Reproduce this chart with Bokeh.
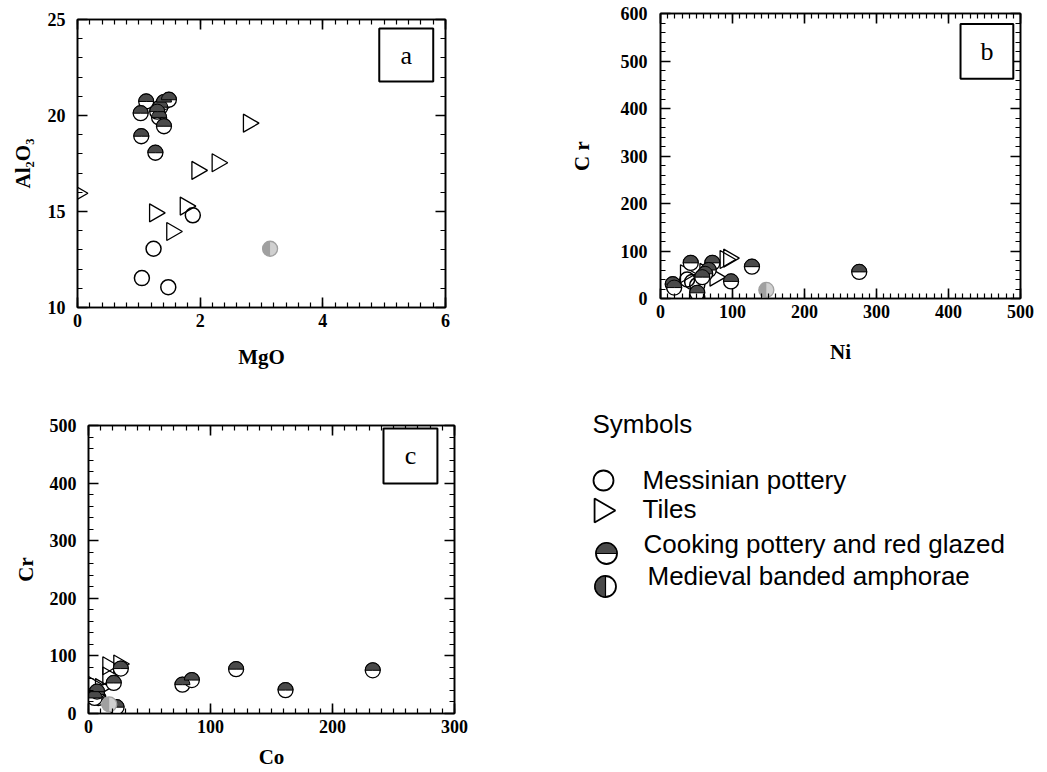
import numpy as np
from bokeh.plotting import figure
from bokeh.models import (Range1d, SingleIntervalTicker, LinearAxis, CustomJSTickFormatter,
                          BoxAnnotation, Label)
from bokeh.layouts import row, column
from bokeh.core.properties import value
from bokeh.embed import file_html
from bokeh.resources import INLINE

# ---------------- data ----------------
# Panel a: MgO vs Al2O3
a_mess_x = [1.88, 1.24, 1.05, 1.48]
a_mess_y = [14.8, 13.06, 11.53, 11.06]
a_tile_x = [2.79, 2.28, 1.95, 0.0, 1.76, 1.26, 1.54]
a_tile_y = [19.6, 17.54, 17.14, 15.95, 15.28, 14.93, 13.96]
a_cook_x = [1.12, 1.03, 1.04, 1.27, 1.33, 1.41, 1.35, 1.41, 1.49, 1.30]
a_cook_y = [20.73, 20.12, 18.92, 18.06, 19.9, 19.44, 20.43, 20.7, 20.82, 20.2]
a_med_x = [3.14]
a_med_y = [13.06]

# Panel b: Ni vs Cr
b_mess_x = [37, 44, 51, 51]
b_mess_y = [40, 35, 28, 3]
b_tile_x = [35, 90, 95, 76, 62]
b_tile_y = [52, 82, 85, 45, 55]
b_cook_x = [17, 19, 42, 72, 67, 62, 58, 98, 127, 276, 51]
b_cook_y = [30, 23, 75, 75, 60, 52, 45, 36, 67, 56, 12]
b_med_x = [147]
b_med_y = [18]

# Panel c: Co vs Cr
c_mess_x = [4, 6, 8]
c_mess_y = [30, 35, 27]
c_tile_x = [3, 10, 16, 25, 16]
c_tile_y = [50, 45, 83, 86, 65]
c_cook_x = [121, 233, 161.5, 77, 84.7, 26.5, 20.7, 23, 7, 5, 7]
c_cook_y = [77, 75, 40.6, 50, 58, 78, 53, 11, 33, 27, 38]
c_med_x = [17]
c_med_y = [16]

legend_title = "Symbols"
legend_labels = ["Messinian pottery", "Tiles", "Cooking pottery and red glazed",
                 "Medieval banded amphorae"]

# ---------------- style ----------------
SERIF = "Liberation Serif"
SANS = "Liberation Sans"
COOK_DARK = "#4a4a4a"
MED_LIGHT = "#d0d0d0"
MED_DARK = "#a0a0a0"


def blank_axis(ticker):
    ax = LinearAxis(ticker=ticker, formatter=CustomJSTickFormatter(code="return ''"))
    ax.major_label_text_font_size = "0px"
    ax.major_label_standoff = 0
    return ax


def make_panel(width, height, bl, br, bt, bb, xr, yr, xint, xminor, yint, yminor,
               xlabel, ylabel, xstand, ystand):
    p = figure(width=width, height=height, output_backend="svg", toolbar_location=None,
               x_range=Range1d(*xr), y_range=Range1d(*yr),
               min_border_left=bl, min_border_right=br, min_border_top=bt, min_border_bottom=bb)
    p.grid.grid_line_color = None
    p.outline_line_color = "black"
    p.outline_line_width = 1.5
    xt = SingleIntervalTicker(interval=xint, num_minor_ticks=xminor)
    yt = SingleIntervalTicker(interval=yint, num_minor_ticks=yminor)
    xb = p.below[0]
    yl = p.left[0]
    xb.ticker = xt
    yl.ticker = yt
    top = blank_axis(xt)
    right = blank_axis(yt)
    p.add_layout(top, "above")
    p.add_layout(right, "right")
    for ax in (xb, yl, top, right):
        ax.axis_line_width = 1.6
        ax.major_tick_in = 10
        ax.major_tick_out = 0
        ax.minor_tick_in = 5
        ax.minor_tick_out = 0
        ax.major_tick_line_width = 1.6
        ax.minor_tick_line_width = 1.2
    for ax in (xb, yl):
        ax.major_label_text_font = SERIF
        ax.major_label_text_font_style = "bold"
        ax.major_label_text_font_size = "18px"
        ax.major_label_text_color = "black"
        ax.axis_label_text_font = SERIF
        ax.axis_label_text_font_style = "bold"
        ax.axis_label_text_font_size = "21px"
        ax.axis_label_text_color = "black"
    xb.axis_label = xlabel
    yl.axis_label = ylabel
    xb.major_label_standoff = xstand[0]
    xb.axis_label_standoff = xstand[1]
    yl.major_label_standoff = ystand[0]
    yl.axis_label_standoff = ystand[1]
    return p


def draw_points(p, mx, my, tx, ty, cx, cy, dx, dy, size=15):
    r = size / 2.0
    # Messinian pottery: open circles
    p.scatter(mx, my, marker="circle", size=size, fill_color="white", fill_alpha=0.0,
              line_color="black", line_width=1.5)
    # Tiles: open right-pointing triangles
    p.scatter(tx, ty, marker="triangle", angle=-np.pi / 2, size=size + 3, fill_alpha=0.0,
              line_color="black", line_width=1.3)
    # Cooking pottery: upper half dark
    p.scatter(cx, cy, marker="circle", size=size, fill_color="white", line_color="black",
              line_width=1.3)
    p.wedge(cx, cy, radius=r, radius_units="screen", start_angle=0, end_angle=np.pi,
            fill_color=COOK_DARK, line_color="black", line_width=1)
    # Medieval banded amphorae: left half darker (grey in plots)
    p.scatter(dx, dy, marker="circle", size=size, fill_color=MED_LIGHT, line_color=MED_DARK,
              line_width=1.3)
    p.wedge(dx, dy, radius=r, radius_units="screen", start_angle=np.pi / 2,
            end_angle=3 * np.pi / 2, fill_color=MED_DARK, line_color=None)


def tag(p, left, right, bottom, top, letter):
    p.add_layout(BoxAnnotation(left=left, right=right, bottom=bottom, top=top,
                               fill_color="white", fill_alpha=1.0,
                               line_color="black", line_alpha=1.0, line_width=2))
    p.add_layout(Label(x=(left + right) / 2, y=(bottom + top) / 2, text=letter,
                       text_align="center", text_baseline="middle",
                       text_font=SERIF, text_font_size="26px", text_color="black"))


# Panel a
pa = make_panel(470, 390, 77, 25, 19, 83, (0, 6), (10, 25), 2, 10, 5, 5,
                "MgO", "Al\u2082O\u2083", (6, 15), (12, 10))
draw_points(pa, a_mess_x, a_mess_y, a_tile_x, a_tile_y, a_cook_x, a_cook_y, a_med_x, a_med_y)
tag(pa, 4.92, 5.80, 21.77, 24.53, "a")

# Panel b
pb = make_panel(577, 390, 190, 27, 13, 92, (0, 500), (0, 600), 100, 10, 100, 5,
                "Ni", "C r", (6, 19), (13, 24))
draw_points(pb, b_mess_x, b_mess_y, b_tile_x, b_tile_y, b_cook_x, b_cook_y, b_med_x, b_med_y)
tag(pb, 416.7, 490, 462.7, 578, "b")

# Panel c
pc = make_panel(520, 382, 88, 66, 35, 59, (0, 300), (0, 500), 100, 10, 100, 5,
                "Co", "Cr", (6, 9), (12, 9))
draw_points(pc, c_mess_x, c_mess_y, c_tile_x, c_tile_y, c_cook_x, c_cook_y, c_med_x, c_med_y)
tag(pc, 241.8, 286, 399.3, 494.8, "c")

# Legend panel (pixel-like coordinates)
LW, LH = 527, 382
pl = figure(width=LW, height=LH, output_backend="svg", toolbar_location=None,
            x_range=Range1d(0, LW), y_range=Range1d(0, LH),
            x_axis_location=None, y_axis_location=None,
            min_border_left=0, min_border_right=0, min_border_top=0, min_border_bottom=0)
pl.grid.grid_line_color = None
pl.outline_line_color = None

pl.text(x=[72], y=[349], text=[legend_title], text_font=value(SANS), text_font_size="26px",
        text_baseline="middle", text_align="left", text_color="black")
lx = [122, 122, 123, 127]
ly = [293, 264, 229, 197]
pl.text(x=lx, y=ly, text=legend_labels, text_font=value(SANS), text_font_size="26px",
        text_baseline="middle", text_align="left", text_color="black")
# symbols
pl.scatter([83], [292], marker="circle", size=20, fill_color="white", line_color="black",
           line_width=1.8)
pl.scatter([81], [262], marker="triangle", angle=-np.pi / 2, size=24, fill_alpha=0.0,
           line_color="black", line_width=1.8)
pl.scatter([86], [219], marker="circle", size=21, fill_color="white", line_color="black",
           line_width=1.8)
pl.wedge([86], [219], radius=10.5, radius_units="screen", start_angle=0, end_angle=np.pi,
         fill_color=COOK_DARK, line_color="black", line_width=1.2)
pl.scatter([85], [186], marker="circle", size=21, fill_color="white", line_color="black",
           line_width=1.8)
pl.wedge([85], [186], radius=10.5, radius_units="screen", start_angle=np.pi / 2,
         end_angle=3 * np.pi / 2, fill_color=COOK_DARK, line_color="black", line_width=1.2)

layout = column(row(column(pa), column(pb)), row(column(pc), column(pl)))
open("out.html", "w").write(file_html(layout, INLINE))
